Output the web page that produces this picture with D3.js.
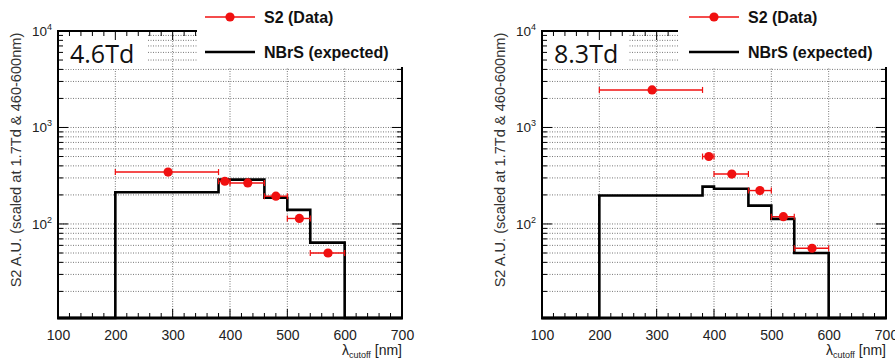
<!DOCTYPE html>
<html>
<head>
<meta charset="utf-8">
<script src="https://cdn.jsdelivr.net/npm/d3@7"></script>
<style>
  body { margin: 0; background: #fff; }
  svg { display: block; font-family: "Liberation Sans", Arial, sans-serif; }
</style>
</head>
<body>
<svg id="chart" width="895" height="361"></svg>
<script>
// values
const xTicks = [100, 200, 300, 400, 500, 600, 700]
const yDecades = [10, 100, 1000, 10000]
const binEdges = [200, 380, 400, 460, 500, 540, 600]
const nbrs46 = [213, 288, 288, 187, 140, 64]
const nbrs83 = [197, 244, 232, 155, 113, 50]
const dataX = [292, 391, 431, 480, 521, 571]
const dataLo = [200, 380, 400, 460, 500, 540]
const dataHi = [380, 400, 460, 500, 540, 600]
const s2_46 = [345, 277, 266, 194, 114, 50]
const s2_83 = [2450, 500, 329, 222, 119, 56]
const fieldLabels = ['4.6Td', '8.3Td']
const legendLabels = ['S2 (Data)', 'NBrS (expected)']

const svg = d3.select('#chart')
const red = '#f01010'

function drawPanel (left, nbrs, s2, label, tdWidth, legOffset) {
  const width = 344
  const top = 31
  const bottom = 318
  const x = d3.scaleLinear().domain([100, 700]).range([left, left + width])
  const y = d3.scaleLog().domain([10.6, 10000]).range([bottom, top])
  const g = svg.append('g')

  // log minor ticks
  const logTicks = []
  yDecades.forEach(d => {
    for (let k = 1; k < 10; k++) {
      const v = d * k
      if (v >= 11 && v <= 10000) logTicks.push(v)
    }
  })
  const minorX = d3.range(100, 701, 20)

  // grid
  g.append('g').selectAll('line.gx')
    .data([200, 300, 400, 500, 600])
    .enter().append('line')
    .attr('x1', d => x(d)).attr('x2', d => x(d))
    .attr('y1', top).attr('y2', bottom)
    .attr('stroke', '#777').attr('stroke-width', 1)
    .attr('stroke-dasharray', '1,1.5')
  g.append('g').selectAll('line.gy')
    .data(logTicks.filter(v => v < 10000))
    .enter().append('line')
    .attr('x1', left).attr('x2', left + width)
    .attr('y1', d => y(d)).attr('y2', d => y(d))
    .attr('stroke', '#777').attr('stroke-width', 1)
    .attr('stroke-dasharray', '1,1.5')

  // label box
  g.append('rect')
    .attr('x', left + 1).attr('y', top + 1)
    .attr('width', tdWidth).attr('height', 37)
    .attr('fill', '#fff')
  g.append('text')
    .attr('x', left + 12).attr('y', top + 32)
    .attr('font-family', '"Open Sans", sans-serif')
    .attr('font-size', 25)
    .attr('fill', '#111')
    .text(label)

  // ticks on four sides
  const tk = g.append('g').attr('stroke', '#000').attr('stroke-width', 1)
  minorX.forEach(v => {
    const len = v % 100 === 0 ? 9 : 5
    tk.append('line').attr('x1', x(v)).attr('x2', x(v)).attr('y1', bottom).attr('y2', bottom - len)
    tk.append('line').attr('x1', x(v)).attr('x2', x(v)).attr('y1', top).attr('y2', top + len)
  })
  logTicks.forEach(v => {
    const len = yDecades.includes(v) ? 10 : 5
    tk.append('line').attr('y1', y(v)).attr('y2', y(v)).attr('x1', left).attr('x2', left + len)
    tk.append('line').attr('y1', y(v)).attr('y2', y(v)).attr('x1', left + width).attr('x2', left + width - len)
  })

  // histogram (NBrS expected)
  const pts = [[100, y.domain()[0]]]
  binEdges.slice(0, -1).forEach((e, i) => pts.push([e, nbrs[i]]))
  pts.push([600, y.domain()[0]], [700, y.domain()[0]])
  const line = d3.line().x(d => x(d[0])).y(d => y(d[1])).curve(d3.curveStepAfter)
  g.append('path')
    .attr('d', line(pts))
    .attr('fill', 'none').attr('stroke', '#000').attr('stroke-width', 2.6)

  // data with x error bars
  const pg = g.append('g')
  pg.selectAll('line.err')
    .data(s2).enter().append('line')
    .attr('x1', (d, i) => x(dataLo[i])).attr('x2', (d, i) => x(dataHi[i]))
    .attr('y1', d => y(d)).attr('y2', d => y(d))
    .attr('stroke', red).attr('stroke-width', 1.4)
  pg.selectAll('line.capL')
    .data(s2).enter().append('line')
    .attr('x1', (d, i) => x(dataLo[i])).attr('x2', (d, i) => x(dataLo[i]))
    .attr('y1', d => y(d) - 3).attr('y2', d => y(d) + 3)
    .attr('stroke', red).attr('stroke-width', 1.2)
  pg.selectAll('line.capR')
    .data(s2).enter().append('line')
    .attr('x1', (d, i) => x(dataHi[i])).attr('x2', (d, i) => x(dataHi[i]))
    .attr('y1', d => y(d) - 3).attr('y2', d => y(d) + 3)
    .attr('stroke', red).attr('stroke-width', 1.2)
  pg.selectAll('circle')
    .data(s2).enter().append('circle')
    .attr('cx', (d, i) => x(dataX[i])).attr('cy', d => y(d))
    .attr('r', 4.6).attr('fill', red)

  // frame
  const legLeft = left + legOffset
  g.append('line').attr('x1', left).attr('x2', left).attr('y1', top - 1).attr('y2', bottom)
    .attr('stroke', '#000').attr('stroke-width', 2)
  g.append('line').attr('x1', left - 1).attr('x2', left + width).attr('y1', top).attr('y2', top)
    .attr('stroke', '#000').attr('stroke-width', 2)
  g.append('line').attr('x1', left + width).attr('x2', left + width).attr('y1', top).attr('y2', bottom)
    .attr('stroke', '#000').attr('stroke-width', 2)
  g.append('line').attr('x1', left - 1).attr('x2', left + width + 1).attr('y1', bottom).attr('y2', bottom)
    .attr('stroke', '#000').attr('stroke-width', 3)

  // legend box over the frame corner
  g.append('rect')
    .attr('x', legLeft).attr('y', 0)
    .attr('width', 895 - legLeft).attr('height', 67)
    .attr('fill', '#fff')
  const lx = left + 147
  g.append('line').attr('x1', lx).attr('x2', lx + 50).attr('y1', 17).attr('y2', 17)
    .attr('stroke', red).attr('stroke-width', 1.4)
  g.append('circle').attr('cx', lx + 25).attr('cy', 17).attr('r', 4.6).attr('fill', red)
  g.append('line').attr('x1', lx).attr('x2', lx + 50).attr('y1', 52).attr('y2', 52)
    .attr('stroke', '#000').attr('stroke-width', 2.4)
  g.selectAll('text.leg')
    .data(legendLabels).enter().append('text')
    .attr('x', left + 206)
    .attr('y', (d, i) => i === 0 ? 23 : 58)
    .attr('font-size', 16).attr('font-weight', 'bold')
    .attr('fill', '#111')
    .text(d => d)

  // x tick labels
  const xa = g.append('g')
    .attr('transform', `translate(0,${bottom})`)
    .call(d3.axisBottom(x).tickValues(xTicks).tickSize(0).tickPadding(12).tickFormat(d3.format('d')))
  xa.select('.domain').remove()
  xa.selectAll('text').attr('font-size', 14).attr('fill', '#222')
    .attr('font-family', '"Liberation Sans", Arial, sans-serif')

  // y tick labels as 10 with superscript
  const yl = g.append('g')
  yDecades.filter(v => v >= 100).forEach(v => {
    const t = yl.append('text')
      .attr('x', left - 26).attr('y', y(v) + 5)
      .attr('font-size', 13.5).attr('fill', '#222')
    t.append('tspan').text('10')
    t.append('tspan').attr('dy', -6).attr('font-size', 9).text(Math.round(Math.log10(v)))
  })

  // axis titles
  const xt = g.append('text')
    .attr('x', left + width).attr('y', 355)
    .attr('text-anchor', 'end').attr('font-size', 14).attr('fill', '#222')
  xt.append('tspan').text('λ')
  xt.append('tspan').attr('dy', 3).attr('font-size', 9).text('cutoff')
  xt.append('tspan').attr('dy', -3).text(' [nm]')

  g.append('text')
    .attr('transform', `translate(${left - 37},160) rotate(-90)`)
    .attr('text-anchor', 'middle').attr('font-size', 14.6).attr('fill', '#333')
    .text('S2 A.U. (scaled at 1.7Td & 460-600nm)')
}

drawPanel(58, nbrs46, s2_46, fieldLabels[0], 89, 139)
drawPanel(542, nbrs83, s2_83, fieldLabels[1], 85, 136)
</script>
</body>
</html>
